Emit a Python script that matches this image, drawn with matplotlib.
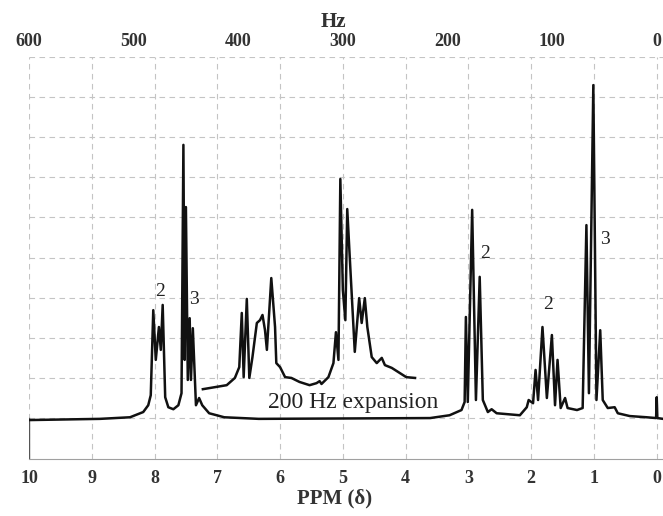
import matplotlib
matplotlib.use("Agg")
import matplotlib.pyplot as plt

# Main trace: chemical shift (ppm) and intensity (grid units).
main_ppm = [10.0, 8.87, 8.39, 8.18, 8.10, 8.06, 8.02, 7.98, 7.93, 7.90, 7.87, 7.83,
            7.78, 7.70, 7.62, 7.57, 7.54, 7.52, 7.50, 7.47, 7.44, 7.42, 7.39, 7.34,
            7.29, 7.24, 7.13, 6.89, 6.34, 3.61, 3.30, 3.11, 3.06, 3.04, 3.01, 2.94,
            2.88, 2.82, 2.77, 2.69, 2.63, 2.55, 2.18, 2.07, 2.04, 1.97, 1.93, 1.89,
            1.82, 1.75, 1.67, 1.62, 1.58, 1.53, 1.46, 1.42, 1.27, 1.18, 1.12, 1.08,
            1.01, 0.96, 0.90, 0.86, 0.78, 0.67, 0.62, 0.43, 0.16, 0.01, 0.0, -0.01,
            -0.1]
main_int = [-0.05, -0.02, 0.02, 0.15, 0.32, 0.57, 2.69, 1.45, 2.27, 1.70, 2.82, 0.52,
            0.27, 0.22, 0.32, 0.62, 6.81, 1.45, 5.26, 0.95, 2.49, 0.95, 2.24, 0.32,
            0.50, 0.32, 0.12, 0.02, -0.02, 0.0, 0.07, 0.20, 0.40, 2.52, 0.40, 5.19,
            0.45, 3.52, 0.45, 0.15, 0.22, 0.12, 0.07, 0.27, 0.45, 0.37, 1.20, 0.45,
            2.27, 0.50, 2.07, 0.32, 1.45, 0.25, 0.50, 0.25, 0.20, 0.25, 4.81, 0.62,
            8.30, 0.45, 2.19, 0.45, 0.25, 0.27, 0.12, 0.05, 0.02, 0.0, 0.52, 0.0,
            -0.02]

# 200 Hz expansion trace (drawn offset above the baseline).
exp_ppm = [7.23, 6.85, 6.72, 6.65, 6.61, 6.58, 6.53, 6.49, 6.44, 6.37, 6.32, 6.28,
           6.24, 6.21, 6.14, 6.08, 6.06, 6.00, 5.92, 5.82, 5.69, 5.53, 5.42, 5.37,
           5.34, 5.23, 5.15, 5.11, 5.07, 5.04, 5.00, 4.96, 4.93, 4.89, 4.81, 4.74,
           4.70, 4.65, 4.61, 4.54, 4.46, 4.38, 4.33, 4.22, 4.12, 3.99, 3.85]
exp_int = [0.72, 0.82, 1.00, 1.27, 2.62, 1.02, 2.97, 1.00, 1.52, 2.37, 2.44, 2.57,
           2.19, 1.70, 3.49, 2.27, 1.37, 1.27, 1.02, 1.00, 0.90, 0.82, 0.87, 0.92,
           0.85, 1.02, 1.37, 2.14, 1.45, 5.96, 3.19, 2.44, 5.21, 4.01, 1.65, 2.99,
           2.37, 2.99, 2.27, 1.52, 1.37, 1.50, 1.32, 1.25, 1.15, 1.02, 1.00]

ppm_ticks = [10, 9, 8, 7, 6, 5, 4, 3, 2, 1, 0]
hz_ticks = [600, 500, 400, 300, 200, 100, 0]
spectrometer_mhz = 60.0

# Multiplicity labels: (ppm, intensity, text)
peak_labels = [(7.91, 3.15, "2"), (7.37, 2.95, "3"), (2.74, 4.11, "2"),
               (1.73, 2.84, "2"), (0.83, 4.45, "3")]

plt.rcParams["font.family"] = ["Liberation Serif", "DejaVu Serif"]

fig = plt.figure(figsize=(6.63, 5.16), dpi=100)
ax = fig.add_axes([0.0437, 0.1105, 0.9563, 0.779])

grid_color = "#c4c4c4"
ax.set_xlim(10.0, -0.1)
ax.set_ylim(-1.02, 9.0)
ax.set_xticks(ppm_ticks)
ax.set_xticklabels([str(t) for t in ppm_ticks], fontweight="bold")
ax.set_yticks(range(0, 10))
ax.set_yticklabels([])
ax.grid(True, color=grid_color, linestyle=(0, (5, 4)), linewidth=0.8)
ax.tick_params(axis="x", length=0, pad=8, labelsize=13, labelcolor="#333333")
ax.tick_params(axis="y", length=0)
for side in ("top", "left", "right"):
    ax.spines[side].set_visible(False)
ax.spines["bottom"].set_color("#a0a0a0")
ax.spines["bottom"].set_linewidth(0.8)
# darker left edge below the baseline, as on the chart paper
ax.plot([10.0, 10.0], [-1.02, 0.0], color="#555555", linewidth=1.0)

ax.plot(main_ppm, main_int, color="#111111", linewidth=1.8, solid_joinstyle="round")
ax.plot(exp_ppm, exp_int, color="#111111", linewidth=1.8, solid_joinstyle="round")

for p, h, s in peak_labels:
    ax.text(p, h, s, fontsize=14, ha="center", va="center", color="#222222")
ax.text(4.84, 0.4, "200 Hz expansion", fontsize=17, ha="center", va="center",
        color="#222222")

# Hz scale along the top.
top = ax.secondary_xaxis("top", functions=(lambda p: p * spectrometer_mhz,
                                           lambda h: h / spectrometer_mhz))
top.set_xticks(hz_ticks)
top.set_xticklabels([str(t) for t in hz_ticks], fontweight="bold")
top.tick_params(length=0, pad=5, labelsize=13, labelcolor="#333333")
top.spines["top"].set_visible(False)

fig.text(0.503, 1 - 22 / 516, "Hz", fontsize=15, fontweight="bold", color="#333333",
         ha="center", va="center")
fig.text(0.505, 1 - 498 / 516, "PPM (\u03b4)", fontsize=15, fontweight="bold",
         color="#333333", ha="center", va="center")

fig.savefig("out.png", dpi=100)
